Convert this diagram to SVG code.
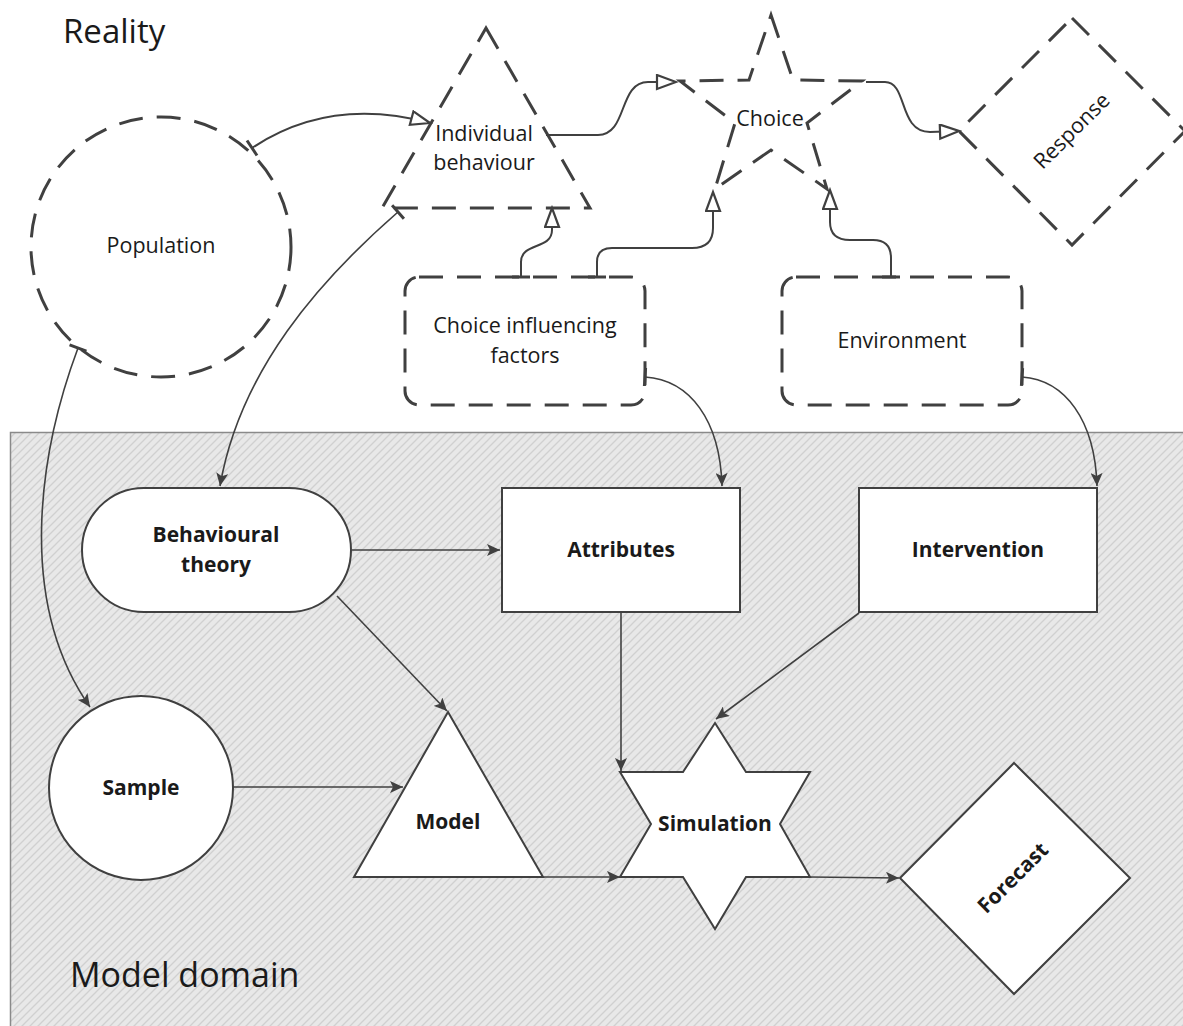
<svg xmlns="http://www.w3.org/2000/svg" width="1183" height="1026" viewBox="0 0 1183 1026">
<style>
.t{font-family:"Open Sans","Liberation Sans",sans-serif;fill:#1a1a1a;text-anchor:middle}
.r{font-size:21.5px}
.b{font-size:21px;font-weight:bold}
.h{font-family:"Open Sans","Liberation Sans",sans-serif;fill:#1a1a1a}
.dash{fill:none;stroke:#404040;stroke-width:3;stroke-dasharray:24 14}
.solid{fill:#ffffff;stroke:#404040;stroke-width:2}
.c{fill:none;stroke:#404040;stroke-width:2}
.cm{fill:none;stroke:#404040;stroke-width:1.6}
</style>
<defs>
<pattern id="hatch" patternUnits="userSpaceOnUse" width="8" height="8">
<rect width="8" height="8" fill="#e8e8e8"/>
<path d="M-2,2 L2,-2 M0,8 L8,0 M6,10 L10,6" stroke="#d0d0d0" stroke-width="1.3"/>
</pattern>
<marker id="hollow" markerUnits="userSpaceOnUse" markerWidth="24" markerHeight="18" refX="21" refY="8" orient="auto">
<path d="M2,1 L21,8 L2,15 Z" fill="#ffffff" stroke="#404040" stroke-width="2.2"/>
</marker>
<marker id="fill" markerUnits="userSpaceOnUse" markerWidth="14" markerHeight="12" refX="13" refY="6" orient="auto">
<path d="M0,0 L13,6 L0,12 L3,6 Z" fill="#404040"/>
</marker>
<marker id="tee" markerUnits="userSpaceOnUse" markerWidth="4" markerHeight="20" refX="2" refY="10" orient="auto">
<path d="M2,1 L2,19" stroke="#404040" stroke-width="3"/>
</marker>
</defs>

<rect id="model-domain" x="10.5" y="432.5" width="1185" height="610" fill="url(#hatch)" stroke="#8a8a8a" stroke-width="1.5"/>

<text class="h" x="63" y="43" font-size="33">Reality</text>
<text class="h" x="70" y="987" font-size="34">Model domain</text>

<g id="connectors">
<path class="c" d="M252,148 Q330,96 430,123" marker-start="url(#tee)" marker-end="url(#hollow)"/>
<path class="c" d="M546,135 H598 C628,135 618,82 648,82 L676,82" marker-end="url(#hollow)"/>
<path class="c" d="M866,82 H885 C908,82 898,132 930,132 L959,131" marker-end="url(#hollow)"/>
<path class="c" d="M521,277 V262 C521,242 552,250 552,230 L552,208" marker-start="url(#tee)" marker-end="url(#hollow)"/>
<path class="c" d="M597,277 V262 Q597,248 612,248 H692 Q713,248 713,228 L713,192" marker-start="url(#tee)" marker-end="url(#hollow)"/>
<path class="c" d="M891,277 V258 Q891,240 873,240 H850 Q830,240 830,222 L830,190" marker-start="url(#tee)" marker-end="url(#hollow)"/>
<path class="cm" d="M398,212 C320,280 240,370 220,486" marker-start="url(#tee)" marker-end="url(#fill)"/>
<path class="cm" d="M78,348 C40,450 15,600 90,707" marker-start="url(#tee)" marker-end="url(#fill)"/>
<path class="cm" d="M645,377 C690,380 720,420 722,486" marker-start="url(#tee)" marker-end="url(#fill)"/>
<path class="cm" d="M1022,377 C1065,380 1095,420 1097,486" marker-start="url(#tee)" marker-end="url(#fill)"/>
<path class="cm" d="M352,550 L500,550" marker-end="url(#fill)"/>
<path class="cm" d="M337,596 L447,711" marker-end="url(#fill)"/>
<path class="cm" d="M233,787 L403,787" marker-end="url(#fill)"/>
<path class="cm" d="M621,612 L621,771" marker-end="url(#fill)"/>
<path class="cm" d="M859,613 L716,719" marker-end="url(#fill)"/>
<path class="cm" d="M543,877 L620,877" marker-end="url(#fill)"/>
<path class="cm" d="M810,877 L899,878" marker-end="url(#fill)"/>
</g>

<g id="population">
<circle class="dash" cx="161" cy="247" r="130"/>
<text class="t r" x="161" y="253">Population</text>
</g>

<g id="individual-behaviour">
<path class="dash" d="M486,28 L590,208 L382,208 Z"/>
<text class="t r" x="484" y="141">Individual</text>
<text class="t r" x="484" y="170">behaviour</text>
</g>

<g id="choice">
<path class="dash" d="M771,15 L793,80 L862,81 L807,123 L827,189 L771,150 L715,189 L735,123 L680,81 L749,80 Z"/>
<text class="t r" x="770" y="126">Choice</text>
</g>

<g id="response">
<path class="dash" d="M1072,18 L1185,131 L1072,245 L959,131 Z"/>
<text class="t r" transform="translate(1072,131) rotate(-45)" x="0" y="7">Response</text>
</g>

<g id="choice-influencing-factors">
<rect class="dash" x="405" y="277" width="240" height="128" rx="14"/>
<text class="t r" x="525" y="333">Choice influencing</text>
<text class="t r" x="525" y="363">factors</text>
</g>

<g id="environment">
<rect class="dash" x="782" y="277" width="240" height="128" rx="14"/>
<text class="t r" x="902" y="348">Environment</text>
</g>

<g id="behavioural-theory">
<rect class="solid" x="82" y="488" width="269" height="124" rx="62"/>
<text class="t b" x="216" y="542">Behavioural</text>
<text class="t b" x="216" y="572">theory</text>
</g>

<g id="attributes">
<rect class="solid" x="502" y="488" width="238" height="124"/>
<text class="t b" x="621" y="557">Attributes</text>
</g>

<g id="intervention">
<rect class="solid" x="859" y="488" width="238" height="124"/>
<text class="t b" x="978" y="557">Intervention</text>
</g>

<g id="sample">
<circle class="solid" cx="141" cy="788" r="92"/>
<text class="t b" x="141" y="795">Sample</text>
</g>

<g id="model">
<path class="solid" d="M448,712 L543,877 L354,877 Z"/>
<text class="t b" x="448" y="829">Model</text>
</g>

<g id="simulation">
<path class="solid" d="M715,723 L746,772 L810,772 L780,824 L810,877 L746,877 L715,929 L683,877 L620,877 L651,824 L620,772 L683,772 Z"/>
<text class="t b" x="715" y="831">Simulation</text>
</g>

<g id="forecast">
<path class="solid" d="M1014,763 L1130,878 L1014,994 L900,878 Z"/>
<text class="t b" transform="translate(1013,878) rotate(-45)" x="0" y="7">Forecast</text>
</g>
</svg>
